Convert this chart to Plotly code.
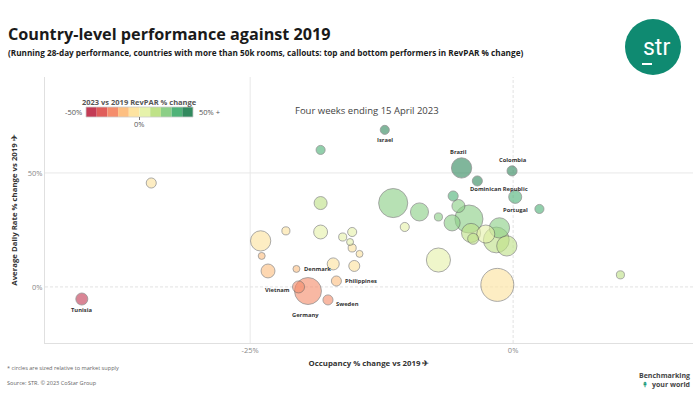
import plotly.graph_objects as go

# ---------------- data ----------------
countries = ["Tunisia", "", "Israel", "", "Brazil", "Dominican Republic", "Colombia", "Portugal",
             "", "", "", "", "", "", "", "", "", "", "", "", "", "", "", "", "", "", "",
             "", "", "", "", "", "", "", "", "", "", "", "", "Denmark", "Philippines",
             "Vietnam", "Germany", "Sweden"]
occ_change = [-41.0, -34.4, -12.2, -18.3, -4.9, -3.4, -0.1, 0.2,
              2.5, -5.7, -11.4, -8.9, -7.1, -5.2, -5.8, -4.2, -1.3, -10.3, -4.0, -2.6, -3.8, -1.6, -0.6,
              -7.1, -1.5, 10.2, -18.3,
              -21.6, -18.3, -24.0, -16.2, -15.3, -15.5, -15.3, -14.6, -23.9, -17.1, -15.1, -23.3,
              -20.6, -16.8, -20.4, -19.5, -17.6]
adr_change = [-5.3, 45.6, 68.9, 60.1, 52.2, 46.5, 50.9, 39.5,
              34.2, 39.9, 36.8, 32.9, 30.7, 35.5, 28.1, 29.8, 25.9, 26.3, 23.7, 23.2, 21.1, 20.6, 18.0,
              11.8, 0.9, 5.3, 36.8,
              24.6, 24.1, 20.2, 21.9, 24.1, 19.7, 17.1, 14.5, 13.6, 10.1, 9.2, 7.0,
              7.9, 2.6, 0.0, -1.8, -5.7]
revpar_change = [-44, -5, 48, 31, 45, 41, 50, 39,
                 37, 32, 21, 21, 21, 28, 21, 24, 24, 9, 18, 9, 16, 18, 17,
                 4, -1, 16, 11,
                 -3, 1, -9, 2, 5, 1, -1, -2, -14, -9, -7, -18,
                 -14, -15, -25, -21, -22]
supply_k = [600, 420, 340, 340, 1700, 420, 420, 700,
            340, 420, 3500, 1350, 270, 700, 1070, 3250, 1700, 340, 1500, 1350, 500, 2750, 1700,
            2400, 4500, 270, 700,
            270, 800, 1700, 270, 340, 200, 270, 200, 200, 600, 500, 800,
            200, 420, 600, 3000, 420]

legend_colors = ["#c33b55", "#e05d5a", "#f58d6c", "#fdbf82", "#fde3a0",
                 "#e6f2ab", "#bfe288", "#8ccf87", "#4fb378", "#338a5f"]
x_ticks = [-25, 0]
y_ticks = [0, 50]

# ---------------- layout helpers ----------------
W, H = 700, 394
L, R, T, B = 45, 693, 77, 343


def px(x):
    return (x - L) / (R - L)


def py(y):
    return (B - y) / (B - T)


FONT = "Open Sans"

scale = []
n = len(legend_colors)
for i, c in enumerate(legend_colors):
    scale.append([i / n, c])
    scale.append([(i + 1) / n, c])

max_d = 33
sizeref = 2.0 * max(supply_k) / (max_d ** 2)

# draw large bubbles first
order = sorted(range(len(supply_k)), key=lambda i: -supply_k[i])

fig = go.Figure()
fig.add_trace(go.Scatter(
    x=[occ_change[i] for i in order],
    y=[adr_change[i] for i in order],
    mode="markers",
    marker=dict(
        size=[supply_k[i] for i in order],
        sizemode="area",
        sizeref=sizeref,
        color=[revpar_change[i] for i in order],
        colorscale=scale,
        cmin=-50, cmax=50,
        opacity=0.62,
        line=dict(color="#555555", width=0.8),
    ),
    text=[countries[i] for i in order],
    hoverinfo="text",
    showlegend=False,
))

# gridlines
shapes = []
shapes.append(dict(type="line", xref="x", yref="paper", x0=-25, x1=-25, y0=0, y1=1,
                   line=dict(color="#e8e8e8", width=1), layer="below"))
shapes.append(dict(type="line", xref="x", yref="paper", x0=0, x1=0, y0=0, y1=1,
                   line=dict(color="#e2e2e2", width=1, dash="3px,2px"), layer="below"))
shapes.append(dict(type="line", xref="paper", yref="y", x0=0, x1=1, y0=50, y1=50,
                   line=dict(color="#e8e8e8", width=1), layer="below"))
shapes.append(dict(type="line", xref="paper", yref="y", x0=0, x1=1, y0=0, y1=0,
                   line=dict(color="#e2e2e2", width=1, dash="3px,2px"), layer="below"))

# colour legend
cell_w = 10.7
lx0, ly0, ly1 = 86, 107, 117
for i, c in enumerate(legend_colors):
    shapes.append(dict(type="rect", xref="paper", yref="paper",
                       x0=px(lx0 + i * cell_w), x1=px(lx0 + (i + 1) * cell_w),
                       y0=py(ly1), y1=py(ly0), fillcolor=c, line=dict(width=0)))
shapes.append(dict(type="rect", xref="paper", yref="paper",
                   x0=px(lx0), x1=px(lx0 + n * cell_w), y0=py(ly1), y1=py(ly0),
                   line=dict(color="#cccccc", width=0.8)))
shapes.append(dict(type="line", xref="paper", yref="paper",
                   x0=px(139.5), x1=px(139.5), y0=py(120), y1=py(117),
                   line=dict(color="#555555", width=0.8)))

# logo
shapes.append(dict(type="circle", xref="paper", yref="paper",
                   x0=px(625), x1=px(681), y0=py(75), y1=py(19),
                   fillcolor="#0f8a71", line=dict(width=0)))
shapes.append(dict(type="line", xref="paper", yref="paper",
                   x0=px(642), x1=px(652), y0=py(64), y1=py(64),
                   line=dict(color="white", width=2)))

ann = []


def text(x, y, s, size, color="#333333", xanchor="left", bold=False, family=FONT):
    ann.append(dict(x=px(x), y=py(y), xref="paper", yref="paper", text=("<b>%s</b>" % s) if bold else s,
                    showarrow=False, xanchor=xanchor, yanchor="middle",
                    font=dict(size=size, color=color, family=family)))


text(6, 34, "Country-level performance against 2019", 16.2, "#1a1a1a", bold=True)
text(6, 52, "(Running 28-day performance, countries with more than 50k rooms, callouts: top and bottom performers in RevPAR % change)",
     8.2, "#1a1a1a", bold=True)
text(139.5, 102, "2023 vs 2019 RevPAR % change", 7.5, "#555555", "center", bold=True)
text(84, 112, "-50%", 7.5, "#555555", "right")
text(197, 112, "50% +", 7.5, "#555555", "left")
text(139.5, 124, "0%", 7.5, "#555555", "center")
text(367, 110, "Four weeks ending 15 April 2023", 9.5, "#444444", "center")
text(656, 48, "str", 23, "white", "center", family="Roboto")
text(692, 375, "Benchmarking", 7, "#444444", "right", bold=True)
text(692, 384, "your world", 7, "#444444", "right", bold=True)
text(645, 384, "↟", 7, "#1a9a7a", "center", bold=True)
text(5, 368, "* circles are sized relative to market supply", 5.6, "#666666")
text(5, 383, "Source: STR. © 2023 CoStar Group", 5.6, "#666666")

# callout labels (placed relative to their points)
label_pos = {
    "Tunisia": (0, -11, "center"),
    "Israel": (0, -10, "center"),
    "Brazil": (-3, 16, "center"),
    "Colombia": (1, 11, "center"),
    "Dominican Republic": (-9, -8, "left"),
    "Portugal": (0, -13, "center"),
    "Denmark": (6, 0, "left"),
    "Philippines": (7, 0, "left"),
    "Vietnam": (-7, -3, "right"),
    "Germany": (-2, -24, "center"),
    "Sweden": (6, -4, "left"),
}
for i, name in enumerate(countries):
    if name in label_pos:
        dx, dy, xa = label_pos[name]
        ann.append(dict(x=occ_change[i], y=adr_change[i], xref="x", yref="y", text="<b>%s</b>" % name,
                        showarrow=False, xshift=dx, yshift=dy, xanchor=xa, yanchor="middle",
                        font=dict(size=5.8, color="#333333", family=FONT)))

fig.update_layout(
    width=W, height=H,
    margin=dict(l=L, r=W - R, t=T, b=H - B, pad=0),
    paper_bgcolor="white", plot_bgcolor="white",
    font=dict(family=FONT, color="#333333"),
    shapes=shapes, annotations=ann,
    xaxis=dict(range=[-44.5, 17.1], tickvals=x_ticks, ticktext=["%d%%" % v for v in x_ticks],
               showgrid=False, zeroline=False, showline=True, linecolor="#e0e0e0", linewidth=1,
               tickfont=dict(size=7.5, color="#888888"), ticks="",
               title=dict(text="<b>Occupancy % change vs 2019 ✈</b>", font=dict(size=7.8, color="#333333"),
                          standoff=6)),
    yaxis=dict(range=[-24.6, 92.1], tickvals=y_ticks, ticktext=["%d%%" % v for v in y_ticks],
               showgrid=False, zeroline=False, showline=True, linecolor="#e0e0e0", linewidth=1,
               tickfont=dict(size=7.5, color="#888888"), ticks="",
               title=dict(text="<b>Average Daily Rate % change vs 2019 ✈</b>", font=dict(size=7.8, color="#333333"),
                          standoff=8)),
)

fig.write_html("out.html", config={"displayModeBar": False},
               post_script="document.body.style.margin='0';document.body.style.overflow='hidden';")
